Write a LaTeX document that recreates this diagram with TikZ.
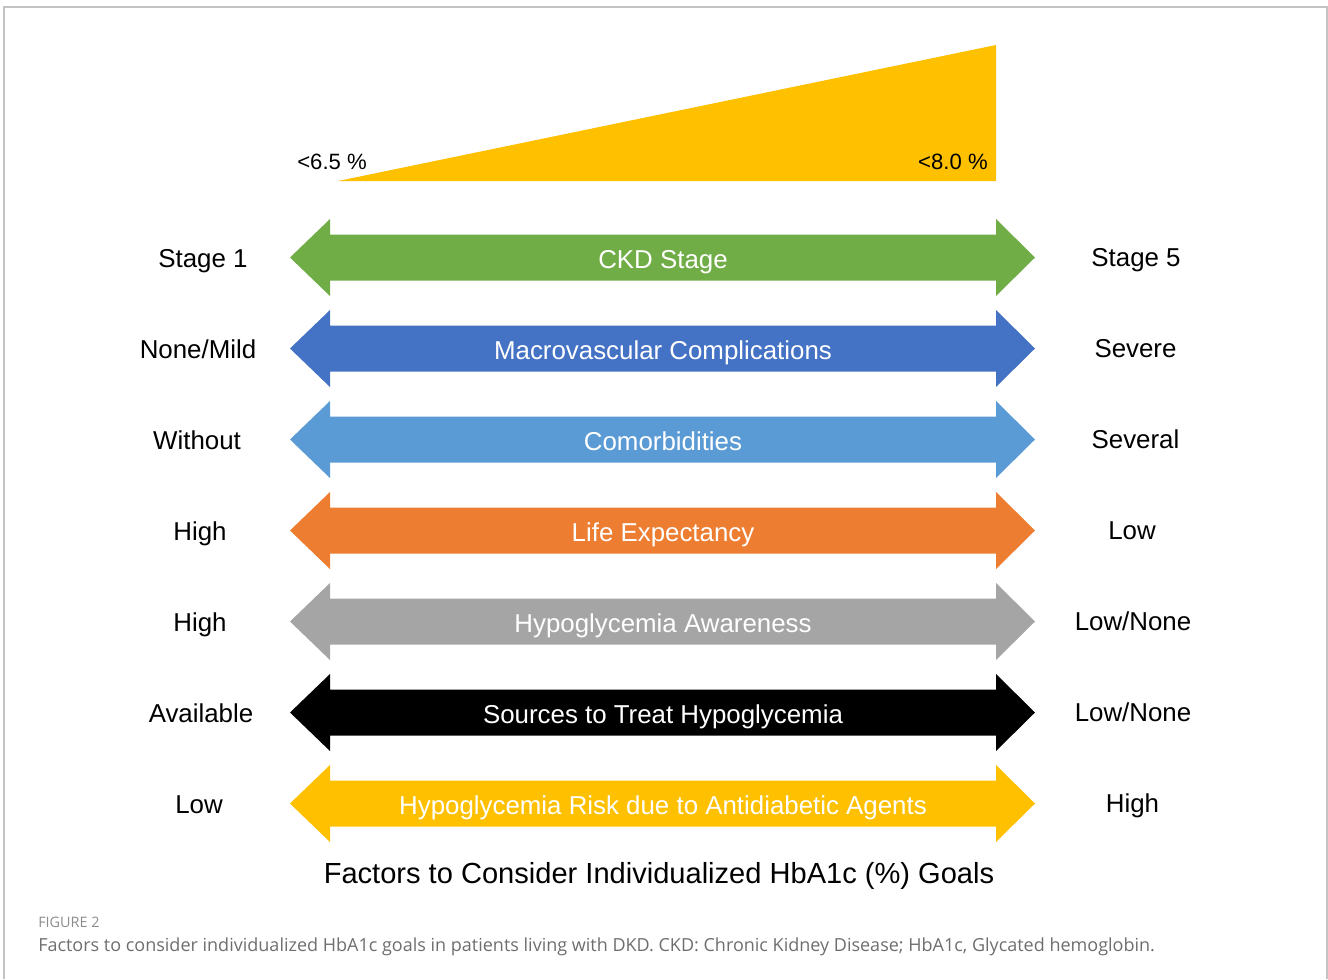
\documentclass[tikz,border=0pt]{standalone}
\usepackage{fontspec}
\setmainfont{Liberation Sans}
\newfontfamily\capfont{Open Sans}
\definecolor{ckdgreen}{HTML}{70AD47}
\definecolor{macroblue}{HTML}{4472C4}
\definecolor{comorbblue}{HTML}{5B9BD5}
\definecolor{lifeorange}{HTML}{ED7D31}
\definecolor{awaregray}{HTML}{A5A5A5}
\definecolor{riskgold}{HTML}{FFC000}
\definecolor{framegray}{HTML}{C4C4C4}
\definecolor{capgray}{HTML}{6E6E6E}
\definecolor{figgray}{HTML}{8C8C8C}
\tikzset{
  arrowtext/.style={anchor=base, text=white, font=\fontsize{19.4pt}{22pt}\selectfont, inner sep=0pt},
  sidetext/.style={anchor=base, text=black, font=\fontsize{19.4pt}{22pt}\selectfont, inner sep=0pt},
  pcttext/.style={text=black, font=\fontsize{16.6pt}{19pt}\selectfont, inner sep=0pt},
}
\newcommand\factorrow[8]{%
  \fill[#3] (290,#2) -- (330,#2-38.5) -- (330,#2-23) -- (996,#2-23) -- (996,#2-38.5)
     -- (1035,#2) -- (996,#2+38.5) -- (996,#2+23) -- (330,#2+23) -- (330,#2+38.5) -- cycle;
  \node[arrowtext] (#1) at (663,#2+10.5) {#4};
  \node[sidetext] (#1-left) at (#7,#2+10) {#5};
  \node[sidetext] (#1-right) at (#8,#2+9) {#6};
}
\begin{document}
\begin{tikzpicture}[x=0.75pt,y=-0.75pt]
\useasboundingbox (0,0) rectangle (1328,979);
\draw[framegray, line width=1.1pt] (4,979) -- (4,7) -- (1327,7) -- (1327,979);
% HbA1c wedge
\fill[riskgold] (338,181) -- (996,181) -- (996,45) -- cycle;
\node[pcttext, anchor=base west] (low) at (297,169) {<6.5 \%};
\node[pcttext, anchor=base east] (high) at (988,169) {<8.0 \%};
% rows
\factorrow{ckd}{257.5}{ckdgreen}{CKD Stage}{Stage 1}{Stage 5}{203}{1136}
\factorrow{macro}{348.5}{macroblue}{Macrovascular Complications}{None/Mild}{Severe}{198}{1135.5}
\factorrow{comorb}{439.5}{comorbblue}{Comorbidities}{Without}{Several}{197}{1135.5}
\factorrow{life}{530.5}{lifeorange}{Life Expectancy}{High}{Low}{200}{1132}
\factorrow{aware}{621.5}{awaregray}{Hypoglycemia Awareness}{High}{Low/None}{200}{1133}
\factorrow{sources}{712.5}{black}{Sources to Treat Hypoglycemia}{Available}{Low/None}{201}{1133}
\factorrow{risk}{803.5}{riskgold}{Hypoglycemia Risk due to Antidiabetic Agents}{Low}{High}{199}{1132.5}
% title
\node[anchor=base, inner sep=0pt, font=\fontsize{21.8pt}{25pt}\selectfont] (title) at (659,883) {Factors to Consider Individualized HbA1c (\%) Goals};
% caption
\node[anchor=base west, inner sep=0pt, text=figgray, font=\capfont\fontsize{10.8pt}{13pt}\selectfont] (fig) at (38,927) {FIGURE 2};
\node[anchor=base west, inner sep=0pt, text=capgray, font=\capfont\fontsize{13.5pt}{16pt}\selectfont] (cap) at (38,951) {Factors to consider individualized HbA1c goals in patients living with DKD. CKD: Chronic Kidney Disease; HbA1c, Glycated hemoglobin.};
\end{tikzpicture}
\end{document}
